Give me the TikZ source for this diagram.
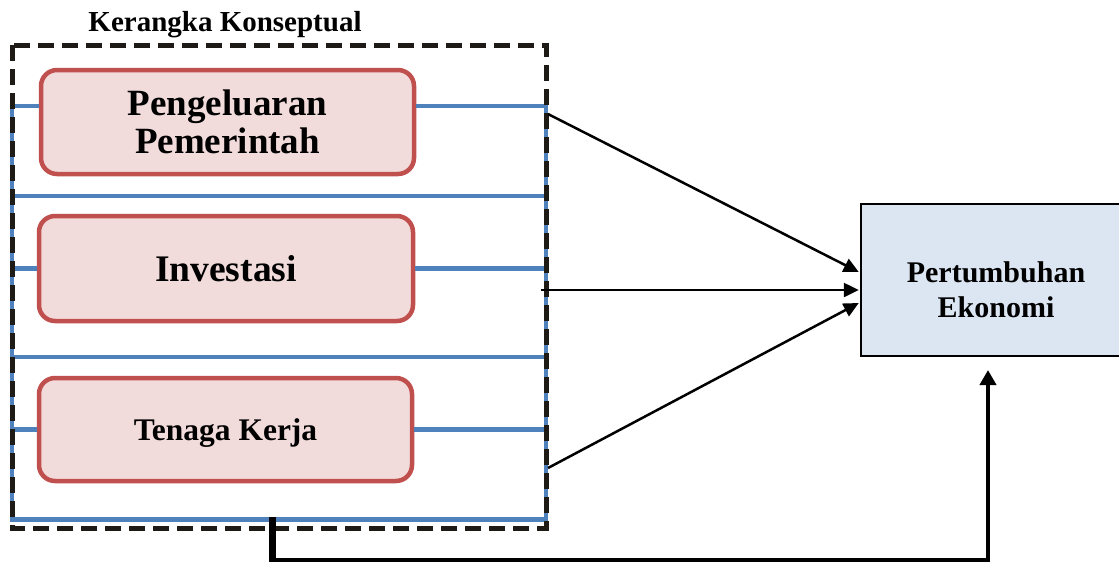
\documentclass[tikz,border=0pt]{standalone}
\usepackage{fontspec}
\setmainfont{Liberation Serif}
\usetikzlibrary{arrows.meta,calc}

\definecolor{blueline}{HTML}{4F81BD}
\definecolor{redborder}{HTML}{C0504D}
\definecolor{redfill}{HTML}{F2DCDB}
\definecolor{bluefill}{HTML}{DCE6F2}
\definecolor{frameink}{HTML}{1E1B16}

\tikzset{
  factorbox/.style={draw=redborder, fill=redfill, line width=4.5pt,
    rounded corners=16pt, inner sep=0pt, align=center},
  bluelink/.style={draw=blueline, line width=4.5pt},
  framebox/.style={draw=frameink, line width=5pt, dash pattern=on 16pt off 8pt},
  influence/.style={draw=black, line width=2.5pt,
    -{Triangle[length=15pt,width=14pt]}},
  feedback/.style={draw=black, line width=4pt},
}

\begin{document}
\begin{tikzpicture}[x=1pt,y=-1pt]
\useasboundingbox (0,0) rectangle (1119,563);

% title of the framework
\node[font=\bfseries\fontsize{29}{31}\selectfont, inner sep=0pt] (title) at (225,25) {Kerangka Konseptual};

% independent variables
\node[factorbox, minimum width=373pt, minimum height=104pt,
      font=\bfseries\fontsize{37}{38}\selectfont] (gov) at (227.5,122) {Pengeluaran\\Pemerintah};
\node[factorbox, minimum width=374pt, minimum height=105pt,
      font=\bfseries\fontsize{37.5}{39}\selectfont] (inv) at (226,268.5) {Investasi};
\node[factorbox, minimum width=373pt, minimum height=103pt, text depth=0pt,
      font=\bfseries\fontsize{31.5}{33}\selectfont] (lab) at (225.5,429.5) {Tenaga Kerja};

% blue bracket lines joining the variables
\draw[bluelink] (12,106) -- (gov.west |- 0,106);
\draw[bluelink] (gov.east |- 0,106) -- (546,106);
\draw[bluelink] (12,196) -- (546,196);
\draw[bluelink] (12,268.5) -- (inv.west);
\draw[bluelink] (inv.east) -- (546,268.5);
\draw[bluelink] (12,357) -- (546,357);
\draw[bluelink] (12,429.5) -- (lab.west);
\draw[bluelink] (lab.east) -- (546,429.5);
\draw[bluelink] (12,519.5) -- (546,519.5);
\draw[bluelink] (12,104) -- (12,521.5);
\draw[bluelink] (546,104) -- (546,521.5);

% dashed frame around the variables
\draw[framebox] (12,45) rectangle (546,528);

% dependent variable
\node[draw=black, line width=2.5pt, fill=bluefill, minimum width=269pt,
      minimum height=152pt, inner sep=0pt] (growth) at (995.5,280) {};
\node[font=\bfseries\fontsize{30}{35}\selectfont, align=center, inner sep=0pt]
      (growthtext) at (996,289.5) {Pertumbuhan\\Ekonomi};

% arrows into the dependent variable
\coordinate (s1) at (548,114);
\coordinate (s2) at (541,290);
\coordinate (s3) at (548,468);
\draw[influence] (s1) -- ($(growth.west)+(-1,-8)$);
\draw[influence] (s2) -- ($(growth.west)+(-1,10)$);
\draw[influence] (s3) -- ($(growth.west)+(-1,23)$);

% joint effect line from the frame
\coordinate (j0) at (272,517);
\coordinate (j1) at (272,560);
\coordinate (j2) at (988,560);
\coordinate (j3) at (988,370);
\draw[black, line width=7pt] (j0) -- ($(j1)+(0,2)$);
\draw[feedback, -{Triangle[length=15pt,width=16pt]}] (j1) -- (j2) -- (j3);
\end{tikzpicture}
\end{document}
